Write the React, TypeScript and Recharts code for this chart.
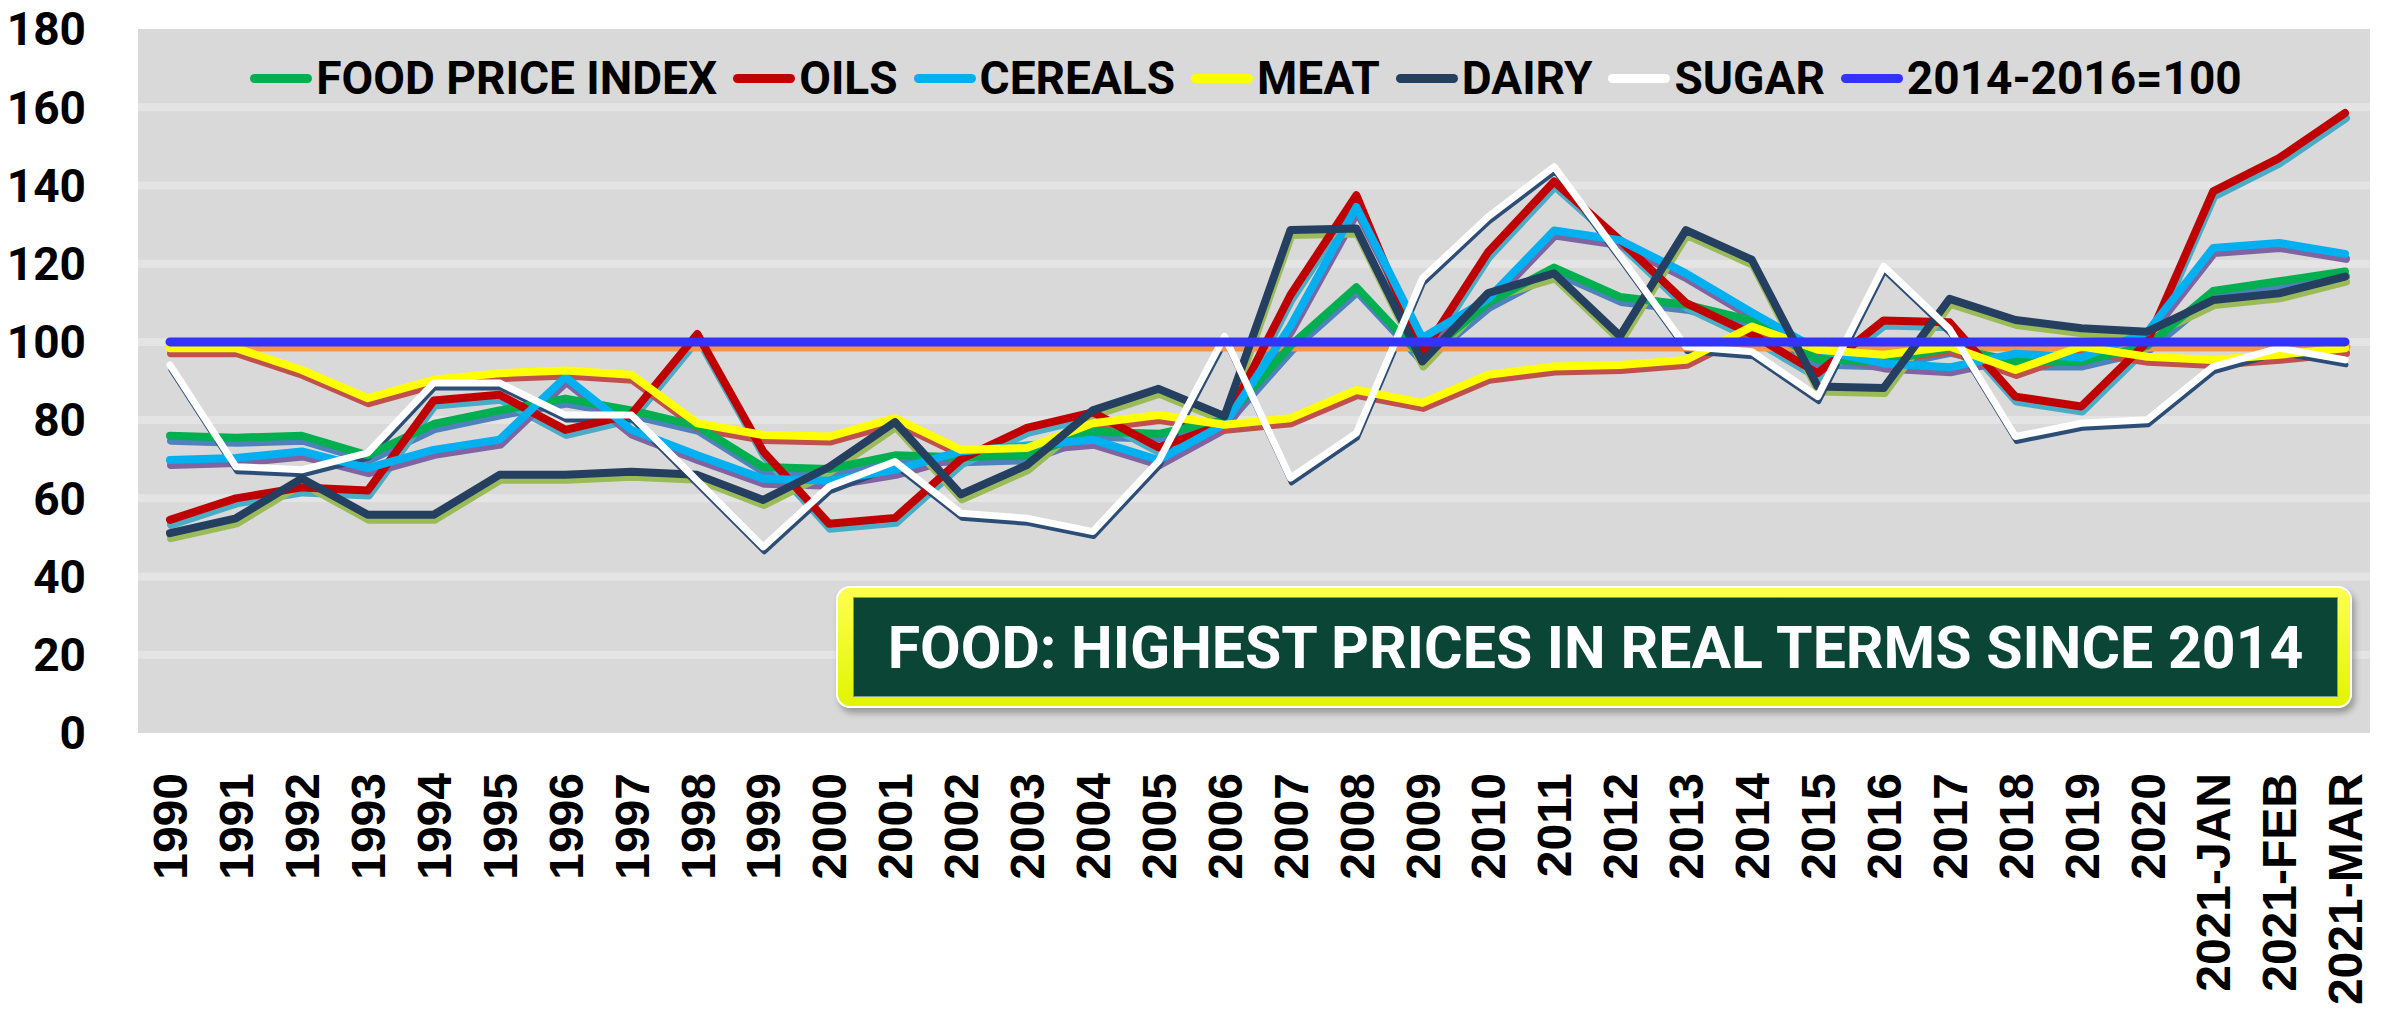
import React from "react";
import { LineChart, Line, XAxis, YAxis, CartesianGrid, Legend } from "recharts";

const categories = [
  "1990", "1991", "1992", "1993", "1994", "1995", "1996", "1997", "1998", "1999",
  "2000", "2001", "2002", "2003", "2004", "2005", "2006", "2007", "2008", "2009",
  "2010", "2011", "2012", "2013", "2014", "2015", "2016", "2017", "2018", "2019",
  "2020", "2021-JAN", "2021-FEB", "2021-MAR",
];

const foodPriceIndex = [
  76, 75.5, 76, 71, 79, 82.5, 85.5, 82.5, 78.5, 68,
  67.5, 71, 70.5, 71, 77, 76.5, 80, 99, 114, 96,
  110, 119, 111.5, 109.5, 105.5, 95.5, 95, 98.5, 95, 95,
  99, 113, 115.5, 118,
];
const oils = [
  54.5, 60, 62.8, 62, 85, 86.5, 77.5, 81.5, 102, 72,
  53.5, 55, 70, 78, 82, 73, 79, 112, 137.5, 97,
  123, 141, 126, 110, 102, 92, 105.5, 105, 86, 83.5,
  100, 138.5, 147, 158.5,
];
const cereals = [
  69.8, 70.3, 72, 67.7, 72.4, 75, 91, 77.5, 71, 65,
  64.5, 67.3, 72, 73.5, 75, 69.8, 79, 104, 134.5, 101,
  111, 128.5, 126, 117.5, 107.5, 98, 94.5, 93.5, 97, 96,
  102.5, 124, 125.3, 122.5,
];
const meat = [
  98.4, 98.4, 92.8, 85.6, 90.3, 92, 92.7, 91.6, 79.2, 76.2,
  75.8, 80.5, 72.4, 72.9, 79.2, 81.3, 78.8, 80.5, 87.7, 84.4,
  91.6, 93.7, 94.1, 95.4, 103.9, 98, 96.7, 98.8, 92.8, 98.8,
  96.2, 95.4, 96.7, 98.4,
];
const dairy = [
  51.1, 54.9, 65.1, 55.8, 55.8, 66, 66, 66.8, 66, 59.6,
  68, 79.5, 61, 68.5, 82.5, 88, 81, 128.6, 129, 95,
  112.5, 117.5, 101.5, 128.6, 121, 88.6, 88.2, 111, 105.6, 103.5,
  102.6, 110.7, 112.4, 116.7,
];
const sugar = [
  94.1, 68.1, 67.3, 71.6, 89.5, 89.5, 81.3, 81.3, 64.5, 47.6,
  63, 69.4, 56.2, 54.9, 51.5, 69.5, 101.4, 65.2, 76.7, 116.2,
  132, 144.8, 122, 98.8, 97.5, 86, 119.3, 103.3, 75.8, 79.2,
  80.1, 93.7, 98.4, 95.4,
];
const baseline = [
  100, 100, 100, 100, 100, 100, 100, 100, 100, 100,
  100, 100, 100, 100, 100, 100, 100, 100, 100, 100,
  100, 100, 100, 100, 100, 100, 100, 100, 100, 100,
  100, 100, 100, 100,
];

const yTicks = [0, 20, 40, 60, 80, 100, 120, 140, 160, 180];

const series = [
  { key: "food", name: "FOOD PRICE INDEX", color: "#00b050", shadow: "#4f81bd", width: 8 },
  { key: "oils", name: "OILS", color: "#c00000", shadow: "#4bacc6", width: 8 },
  { key: "cereals", name: "CEREALS", color: "#00b0f0", shadow: "#8064a2", width: 8 },
  { key: "meat", name: "MEAT", color: "#ffff00", shadow: "#c0504d", width: 8 },
  { key: "dairy", name: "DAIRY", color: "#243f60", shadow: "#9bbb59", width: 8 },
  { key: "sugar", name: "SUGAR", color: "#ffffff", shadow: "#2c4d75", width: 7 },
  { key: "base", name: "2014-2016=100", color: "#3333ff", shadow: "#f79646", width: 9 },
];

const data = categories.map((year, i) => ({
  year,
  food: foodPriceIndex[i],
  oils: oils[i],
  cereals: cereals[i],
  meat: meat[i],
  dairy: dairy[i],
  sugar: sugar[i],
  base: baseline[i],
}));

const XTick = ({ x, y, payload }: any) => (
  <text
    x={x}
    y={y}
    transform={`rotate(-90, ${x}, ${y})`}
    textAnchor="end"
    dy="0.36em"
    fontFamily="'Liberation Sans', Arial, sans-serif"
    fontWeight={700}
    fontSize={48}
    fill="#000"
  >
    {payload.value}
  </text>
);

const LegendRow = () => (
  <div
    style={{
      display: "flex",
      justifyContent: "center",
      alignItems: "center",
      fontFamily: "Roboto, sans-serif",
      fontWeight: 700,
      fontSize: 46,
      lineHeight: "56px",
      color: "#000",
      whiteSpace: "nowrap",
    }}
  >
    {series.map((s) => (
      <div key={s.key} style={{ display: "flex", alignItems: "center", marginRight: 16 }}>
        <span
          style={{
            display: "inline-block",
            width: 62,
            height: 9,
            borderRadius: 5,
            background: s.color,
            marginRight: 4,
          }}
        />
        <span>{s.name}</span>
      </div>
    ))}
  </div>
);

export default function App() {
  return (
    <div style={{ position: "relative", width: 2382, height: 1024, background: "#fff" }}>
      <style>{`body{margin:0} .shadow path{transform:translate(1px,5px)}`}</style>
      <LineChart
        width={2382}
        height={1024}
        data={data}
        margin={{ top: 29, right: 12, bottom: 0, left: 0 }}
      >
        <CartesianGrid
          vertical={false}
          horizontalValues={yTicks.filter((v) => v > 0 && v < 180)}
          stroke="#e4e4e4"
          strokeWidth={8}
          fill="#d9d9d9"
          fillOpacity={1}
        />
        <XAxis
          dataKey="year"
          interval={0}
          height={291}
          padding={{ left: 32, right: 25 }}
          axisLine={false}
          tickLine={false}
          tickSize={0}
          tickMargin={40}
          tick={<XTick />}
        />
        <YAxis
          domain={[0, 180]}
          ticks={yTicks}
          width={138}
          axisLine={false}
          tickLine={false}
          tickSize={0}
          tickMargin={52}
          tick={{ fontFamily: "Roboto, sans-serif", fontWeight: 700, fontSize: 46, fill: "#000" }}
        />
        <Legend
          layout="horizontal"
          verticalAlign="middle"
          align="center"
          content={() => <LegendRow />}
          wrapperStyle={{ top: 50, left: 138, width: 2232, height: 56 }}
        />
        {series.map((s) => (
          <Line
            key={s.key + "-shadow"}
            className="shadow"
            dataKey={s.key}
            stroke={s.shadow}
            strokeWidth={s.key === "sugar" ? 5 : s.width}
            strokeLinecap="round"
            strokeLinejoin="round"
            dot={false}
            activeDot={false}
            legendType="none"
            isAnimationActive={false}
          />
        ))}
        {series.map((s) => (
          <Line
            key={s.key}
            name={s.name}
            dataKey={s.key}
            stroke={s.color}
            strokeWidth={s.width}
            strokeLinecap="round"
            strokeLinejoin="round"
            dot={false}
            activeDot={false}
            isAnimationActive={false}
          />
        ))}
      </LineChart>
      <div
        style={{
          position: "absolute",
          left: 836,
          top: 586,
          width: 1516,
          height: 122,
          boxSizing: "border-box",
          borderRadius: 14,
          border: "2px solid #ffffff",
          background: "linear-gradient(#ffff50, #e2f400)",
          boxShadow: "3px 5px 6px rgba(0,0,0,0.3)",
        }}
      />
      <div
        style={{
          position: "absolute",
          left: 853,
          top: 597,
          width: 1485,
          height: 100,
          boxSizing: "border-box",
          background: "#0a4535",
          border: "1px solid #7f9a90",
          display: "flex",
          alignItems: "center",
          justifyContent: "center",
          fontFamily: "Roboto, sans-serif",
          fontWeight: 700,
          fontSize: 59,
          color: "#ffffff",
          whiteSpace: "nowrap",
        }}
      >
        FOOD: HIGHEST PRICES IN REAL TERMS SINCE 2014
      </div>
    </div>
  );
}
